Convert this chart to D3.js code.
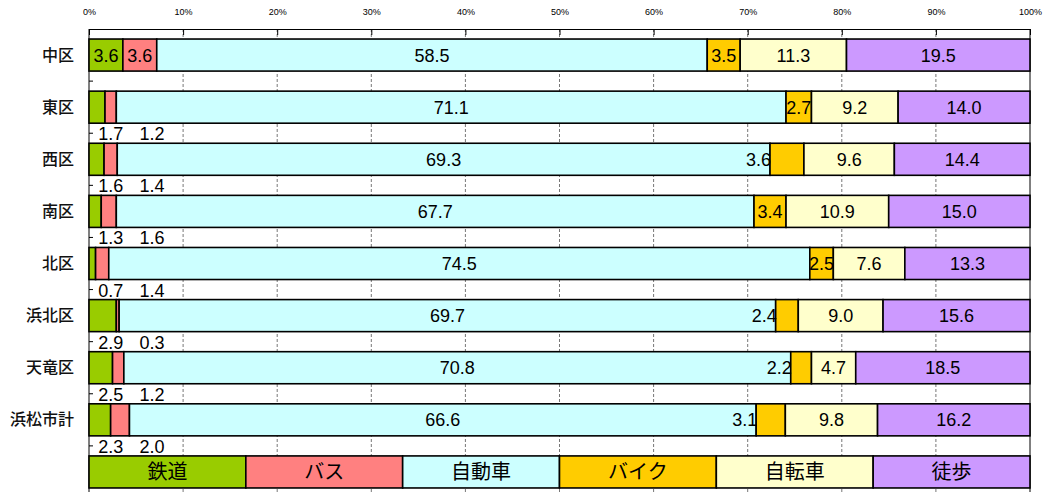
<!DOCTYPE html>
<html>
<head>
<meta charset="utf-8">
<script src="https://cdn.jsdelivr.net/npm/d3@7"></script>
<style>
  body { margin: 0; background: #fff; }
  svg { display: block; }
</style>
</head>
<body>
<svg id="chart" width="1043" height="492"></svg>
<script>
// 区別 代表交通手段構成比 (%)
const districts = ['中区', '東区', '西区', '南区', '北区', '浜北区', '天竜区', '浜松市計'];
const modes = ['鉄道', 'バス', '自動車', 'バイク', '自転車', '徒歩'];
const colors = ['#99CC00', '#FF8080', '#CCFFFF', '#FFCC00', '#FFFFCC', '#CC99FF'];

const rail  = [3.6, 1.7, 1.6, 1.3, 0.7, 2.9, 2.5, 2.3];
const bus   = [3.6, 1.2, 1.4, 1.6, 1.4, 0.3, 1.2, 2.0];
const car   = [58.5, 71.1, 69.3, 67.7, 74.5, 69.7, 70.8, 66.6];
const bike  = [3.5, 2.7, 3.6, 3.4, 2.5, 2.4, 2.2, 3.1];
const cycle = [11.3, 9.2, 9.6, 10.9, 7.6, 9.0, 4.7, 9.8];
const walk  = [19.5, 14.0, 14.4, 15.0, 13.3, 15.6, 18.5, 16.2];

// where each small label sits: 'in' = centred in segment, 'below' = under the bar, 'left' = before the segment
const railBusLabel = ['in', 'below', 'below', 'below', 'below', 'below', 'below', 'below'];
const bikeLabel = ['in', 'in', 'left', 'in', 'in', 'left', 'left', 'left'];
const belowPos = { '鉄道': 2.3, 'バス': 6.7 }; // x position (in %) of labels placed under a bar

const xTicks = d3.range(0, 101, 10);

const series = [rail, bus, car, bike, cycle, walk];
const rows = districts.map((name, i) => {
    const vals = series.map(s => s[i]);
    const total = d3.sum(vals);
    let acc = 0;
    const segs = vals.map((v, j) => {
        const w = v / total * 100;
        const seg = { mode: modes[j], value: v, x0: acc, x1: acc + w, row: i };
        acc += w;
        return seg;
    });
    return { name, segs };
});

const svg = d3.select('#chart');
const MARGIN = { top: 29, left: 89, right: 13 };
const W = 1043 - MARGIN.left - MARGIN.right;
const bandsBottom = 498;

const x = d3.scaleLinear().domain([0, 100]).range([MARGIN.left, MARGIN.left + W]);
const y = d3.scaleBand()
    .domain([...districts, 'legend'])
    .range([MARGIN.top, bandsBottom])
    .paddingInner(0.385)
    .paddingOuter(0.1925);

const numFont = '"Liberation Sans", Arial, sans-serif';
const jpFont = '"Noto Sans CJK JP", sans-serif';

// gridlines
svg.append('g')
    .selectAll('line')
    .data(xTicks.slice(1, -1))
    .join('line')
    .attr('x1', d => x(d)).attr('x2', d => x(d))
    .attr('y1', MARGIN.top).attr('y2', 492)
    .attr('stroke', '#777')
    .attr('stroke-width', 1)
    .attr('stroke-dasharray', '3,2');

// top axis
const topAxis = svg.append('g')
    .attr('transform', `translate(0,${MARGIN.top})`)
    .call(d3.axisTop(x).tickValues(xTicks).tickFormat(d => d + '%').tickSizeInner(-6).tickSizeOuter(0).tickPadding(14));
topAxis.select('.domain').attr('stroke', '#000');
topAxis.selectAll('.tick line').attr('stroke', '#000');
topAxis.selectAll('.tick text')
    .attr('font-family', numFont)
    .attr('font-size', '9px')
    .attr('fill', '#000');

// left + right frame
svg.append('line')
    .attr('x1', x(0)).attr('x2', x(0))
    .attr('y1', MARGIN.top).attr('y2', 492)
    .attr('stroke', '#000');
svg.append('line')
    .attr('x1', x(100)).attr('x2', x(100))
    .attr('y1', MARGIN.top).attr('y2', 492)
    .attr('stroke', '#000');

// category ticks (between bands, pointing inward)
const step = y.step();
svg.append('g')
    .selectAll('line')
    .data(d3.range(1, 9))
    .join('line')
    .attr('x1', x(0)).attr('x2', x(0) + 4)
    .attr('y1', k => MARGIN.top + k * step)
    .attr('y2', k => MARGIN.top + k * step)
    .attr('stroke', '#000');

// category labels
svg.append('g')
    .selectAll('text')
    .data(districts)
    .join('text')
    .attr('x', 74)
    .attr('y', d => y(d) + y.bandwidth() / 2)
    .attr('dy', '0.35em')
    .attr('text-anchor', 'end')
    .attr('font-family', jpFont)
    .attr('font-weight', 500)
    .attr('font-size', '16px')
    .attr('fill', '#111')
    .text(d => d);

// bars
const rowG = svg.append('g')
    .selectAll('g')
    .data(rows)
    .join('g');

rowG.selectAll('rect')
    .data(d => d.segs)
    .join('rect')
    .attr('x', d => x(d.x0))
    .attr('y', d => y(districts[d.row]))
    .attr('width', d => x(d.x1) - x(d.x0))
    .attr('height', y.bandwidth())
    .attr('fill', d => colors[modes.indexOf(d.mode)])
    .attr('stroke', '#000')
    .attr('stroke-width', 1.6);

// value labels
function labelInfo(d) {
    const top = y(districts[d.row]);
    const mid = top + y.bandwidth() / 2;
    let mode = 'in';
    if (d.mode === '鉄道' || d.mode === 'バス') mode = railBusLabel[d.row];
    if (d.mode === 'バイク') mode = bikeLabel[d.row];
    if (mode === 'below') return { x: x(belowPos[d.mode]), y: top + y.bandwidth() + 17, anchor: 'middle', dy: 0 };
    if (mode === 'left') return { x: x(d.x0) + 1, y: mid, anchor: 'end', dy: 6.5 };
    return { x: x((d.x0 + d.x1) / 2), y: mid, anchor: 'middle', dy: 6.5 };
}

const allSegs = rows.flatMap(r => r.segs);
svg.append('g')
    .selectAll('text')
    .data(allSegs)
    .join('text')
    .each(function (d) {
        const p = labelInfo(d);
        d3.select(this)
            .attr('x', p.x)
            .attr('y', p.y + p.dy)
            .attr('text-anchor', p.anchor);
    })
    .attr('font-family', numFont)
    .attr('font-size', '18px')
    .attr('fill', '#000')
    .text(d => d.value.toFixed(1));

// legend row drawn as a bar
const legendX = d3.scaleBand().domain(modes).range([x(0), x(100)]);
const lg = svg.append('g');
lg.selectAll('rect')
    .data(modes)
    .join('rect')
    .attr('x', d => legendX(d))
    .attr('y', y('legend'))
    .attr('width', legendX.bandwidth())
    .attr('height', y.bandwidth())
    .attr('fill', (d, i) => colors[i])
    .attr('stroke', '#000')
    .attr('stroke-width', 1.6);
lg.selectAll('text')
    .data(modes)
    .join('text')
    .attr('x', d => legendX(d) + legendX.bandwidth() / 2)
    .attr('y', y('legend') + y.bandwidth() / 2)
    .attr('dy', '0.36em')
    .attr('text-anchor', 'middle')
    .attr('font-family', jpFont)
    .attr('font-size', '20px')
    .text(d => d);
</script>
</body>
</html>
